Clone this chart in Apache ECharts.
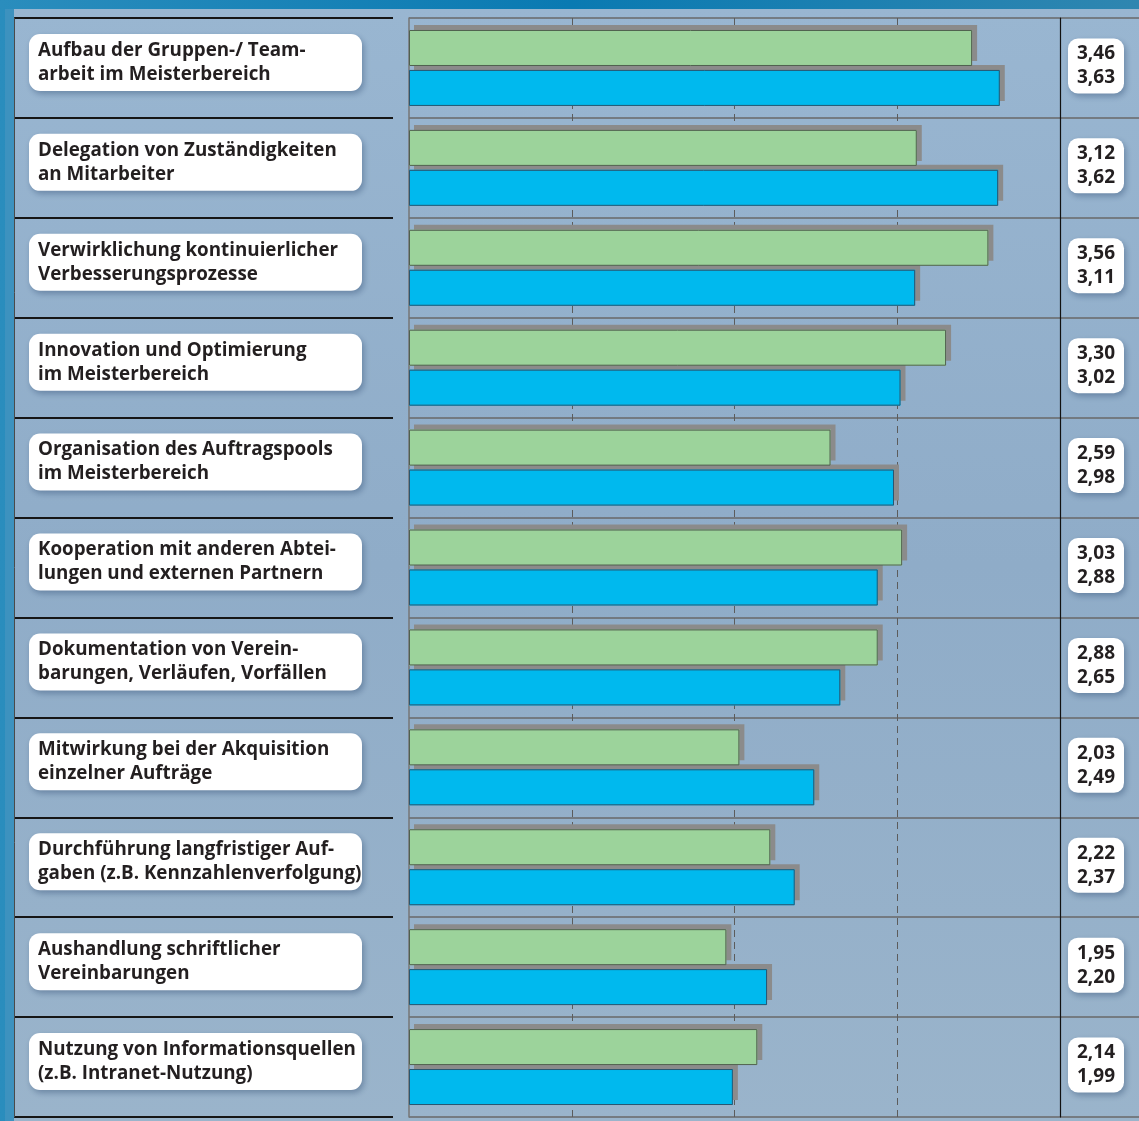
<!DOCTYPE html>
<html>
<head>
<meta charset="utf-8">
<script src="https://cdn.jsdelivr.net/npm/echarts@6/dist/echarts.min.js"></script>
<style>
html,body{margin:0;padding:0;background:#1f82b4;}
#chart{width:1139px;height:1121px;}
</style>
</head>
<body>
<div id="chart"></div>
<script>
// ---- data ----
const categories = [
  "Aufbau der Gruppen-/ Team-\narbeit im Meisterbereich",
  "Delegation von Zuständigkeiten\nan Mitarbeiter",
  "Verwirklichung kontinuierlicher\nVerbesserungsprozesse",
  "Innovation und Optimierung\nim Meisterbereich",
  "Organisation des Auftragspools\nim Meisterbereich",
  "Kooperation mit anderen Abtei-\nlungen und externen Partnern",
  "Dokumentation von Verein-\nbarungen, Verläufen, Vorfällen",
  "Mitwirkung bei der Akquisition\neinzelner Aufträge",
  "Durchführung langfristiger Auf-\ngaben (z.B. Kennzahlenverfolgung)",
  "Aushandlung schriftlicher\nVereinbarungen",
  "Nutzung von Informationsquellen\n(z.B. Intranet-Nutzung)"
];
const greenValues = [3.46, 3.12, 3.56, 3.30, 2.59, 3.03, 2.88, 2.03, 2.22, 1.95, 2.14];
const blueValues  = [3.63, 3.62, 3.11, 3.02, 2.98, 2.88, 2.65, 2.49, 2.37, 2.20, 1.99];
const axisMin = 0, axisMax = 4, axisStep = 1;

// ---- chart ----
const fmt = v => v.toFixed(2).replace('.', ',');
const valueLabels = categories.map((c, i) => fmt(greenValues[i]) + '\n' + fmt(blueValues[i]));
const FONT = '"Open Sans", "Noto Sans", sans-serif';
const GREEN = '#9cd39b', BLUE = '#00b9ee';

const chart = echarts.init(document.getElementById('chart'), null, {renderer: 'canvas'});

const hiddenX = (g) => ({type: 'value', gridIndex: g, min: 0, max: 1, show: false});
const baseCat = (g, extra) => Object.assign({
  type: 'category', gridIndex: g, data: categories, inverse: true,
  axisTick: {show: false}, axisLabel: {show: false},
  axisLine: {show: false}, splitLine: {show: false}
}, extra);

const shadowStyle = (c) => ({color: c, borderWidth: 0,
  shadowColor: '#8b8b8b', shadowBlur: 0, shadowOffsetX: 5, shadowOffsetY: -5});

const option = {
  animation: false,
  backgroundColor: 'transparent',
  graphic: [
    {type: 'rect', z: -10, shape: {x: 0, y: 0, width: 1139, height: 1121},
     style: {fill: new echarts.graphic.LinearGradient(0, 0, 1, 0, [
       {offset: 0, color: '#2a8dbd'}, {offset: 0.5, color: '#0a7ab2'}, {offset: 1, color: '#2f86b0'}])}},
    {type: 'rect', z: -9, shape: {x: 5, y: 9, width: 1134, height: 1112},
     style: {fill: new echarts.graphic.LinearGradient(0, 0, 0, 1, [
       {offset: 0, color: '#99b6d1'}, {offset: 0.5, color: '#8facc8'}, {offset: 1, color: '#9ab4cb'}])}},
    {type: 'rect', z: -8, shape: {x: 5, y: 9, width: 9, height: 1112},
     style: {fill: '#3d92bf'}}
  ],
  grid: [
    {left: 14, width: 379, top: 18, bottom: 4},
    {left: 409, width: 651, top: 18, bottom: 4},
    {left: 1060, right: 0, top: 18, bottom: 4},
    {left: 14, width: 379, top: 12.5, bottom: 9.5},
    {left: 1060, right: 0, top: 16, bottom: 6}
  ],
  xAxis: [
    hiddenX(0),
    {type: 'value', gridIndex: 1, min: axisMin, max: axisMax, interval: axisStep,
     axisLine: {show: false}, axisTick: {show: false}, axisLabel: {show: false},
     splitLine: {show: true, showMinLine: false, showMaxLine: false,
       lineStyle: {color: '#5c5c5c', width: 1, type: [7, 5]}}},
    hiddenX(2), hiddenX(3), hiddenX(4)
  ],
  yAxis: [
    baseCat(0, {axisLine: {show: true, lineStyle: {color: '#4a4a4a', width: 1}},
                splitLine: {show: true, lineStyle: {color: '#161616', width: 2}}}),
    baseCat(1, {axisLine: {show: true, lineStyle: {color: '#767676', width: 1.5}},
                splitLine: {show: true, lineStyle: {color: '#686868', width: 1.5}}}),
    baseCat(1, {position: 'right', axisLine: {show: true, lineStyle: {color: '#111', width: 1.2}}}),
    baseCat(2, {splitLine: {show: true, lineStyle: {color: '#686868', width: 1.5}}}),
    baseCat(3, {axisLabel: {
      show: true, inside: true, margin: 15, align: 'left', interval: 0,
      color: '#231f20', fontFamily: FONT, fontWeight: 'bold', fontSize: 18.8, lineHeight: 24,
      backgroundColor: '#ffffff', borderRadius: 11, padding: [5, 9, 4, 9], width: 315,
      overflow: 'none',
      shadowColor: 'rgba(20,50,90,0.35)', shadowBlur: 6, shadowOffsetX: 2, shadowOffsetY: 3
    }}),
    baseCat(4, {axisLabel: {
      show: true, inside: true, margin: 36, align: 'center', interval: 0,
      formatter: (v, i) => valueLabels[i],
      color: '#231f20', fontFamily: FONT, fontWeight: 'bold', fontSize: 19, lineHeight: 24,
      backgroundColor: '#ffffff', borderRadius: 10, padding: [4, 8, 3, 8], width: 40,
      overflow: 'none',
      shadowColor: 'rgba(20,50,90,0.35)', shadowBlur: 6, shadowOffsetX: 2, shadowOffsetY: 3
    }})
  ],
  series: [
    // shadow layer
    {type: 'bar', xAxisIndex: 1, yAxisIndex: 1, data: greenValues, z: 2,
     barWidth: 36, barGap: '11%', itemStyle: shadowStyle(GREEN)},
    {type: 'bar', xAxisIndex: 1, yAxisIndex: 1, data: blueValues, z: 2,
     barWidth: 36, barGap: '11%', itemStyle: shadowStyle(BLUE)},
    // face layer with outline
    {type: 'bar', xAxisIndex: 1, yAxisIndex: 2, data: greenValues, z: 3,
     barWidth: 36, barGap: '11%',
     itemStyle: {color: GREEN, borderColor: '#50604f', borderWidth: 1}},
    {type: 'bar', xAxisIndex: 1, yAxisIndex: 2, data: blueValues, z: 3,
     barWidth: 36, barGap: '11%',
     itemStyle: {color: BLUE, borderColor: '#2a5670', borderWidth: 1}}
  ]
};
chart.setOption(option);
</script>
</body>
</html>
